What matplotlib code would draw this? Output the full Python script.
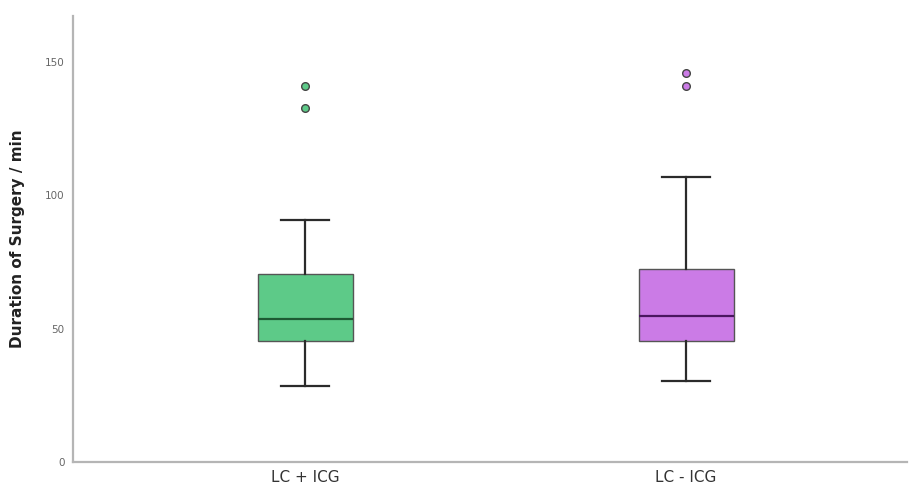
import matplotlib

matplotlib.use("Agg")
import matplotlib.pyplot as plt  # noqa: E402

# box-plot summary values (minutes)
groups = ["LC + ICG", "LC - ICG"]
whisker_low = [28.4, 30.3]
q1 = [45.3, 45.3]
median = [53.5, 54.6]
q3 = [70.3, 72.2]
whisker_high = [90.5, 106.6]
outliers = [[140.7, 132.8], [145.9, 140.7]]

FILL = ["#5dca88", "#cb7be6"]
MEDIAN = ["#1d5a33", "#4a1660"]
INK = "#2b2b2b"
AXIS = "#b5b5b5"

stats = [
    {"label": g, "whislo": lo, "q1": a, "med": m, "q3": b, "whishi": hi, "fliers": fl}
    for g, lo, a, m, b, hi, fl in zip(groups, whisker_low, q1, median, q3, whisker_high, outliers)
]

fig = plt.figure(figsize=(9.09, 4.92), dpi=100)
ax = fig.add_axes([0.080, 0.061, 0.918, 0.906])

bp = ax.bxp(stats, positions=[0, 1], widths=0.25, patch_artist=True,
            whiskerprops={"color": INK, "linewidth": 1.6},
            capprops={"color": INK, "linewidth": 1.6},
            capwidths=0.125)
for i, box in enumerate(bp["boxes"]):
    box.set_facecolor(FILL[i])
    box.set_edgecolor("#555555")
    box.set_linewidth(1.0)
    bp["medians"][i].set_color(MEDIAN[i])
    bp["medians"][i].set_linewidth(1.6)
    fl = bp["fliers"][i]
    fl.set_marker("o")
    fl.set_markersize(5.5)
    fl.set_markerfacecolor(FILL[i])
    fl.set_markeredgecolor("#444444")
    fl.set_markeredgewidth(1.0)

ax.set_xlim(-0.61, 1.58)
ax.set_ylim(0, 167)
ax.set_yticks([0, 50, 100, 150])
ax.set_xticks([0, 1])
ax.set_xticklabels(groups)

for s in ("top", "right"):
    ax.spines[s].set_visible(False)
for s in ("left", "bottom"):
    ax.spines[s].set_color(AXIS)
    ax.spines[s].set_linewidth(1.6)
ax.tick_params(axis="y", length=0, labelsize=7.5, labelcolor="#666666", pad=6)
ax.tick_params(axis="x", length=0, labelsize=11, labelcolor="#333333", pad=6)
ax.set_ylabel("Duration of Surgery / min", fontsize=11, fontweight="bold", color="#222222", labelpad=14)

fig.savefig("out.png", dpi=100)
